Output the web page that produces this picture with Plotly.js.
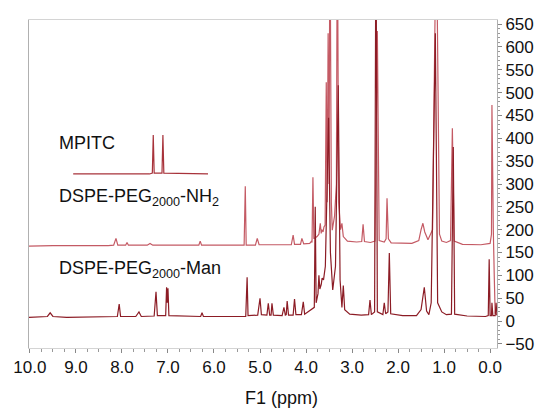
<!DOCTYPE html>
<html>
<head>
<meta charset="utf-8">
<script src="https://cdn.plot.ly/plotly-3.0.1.min.js"></script>
<style>html,body{margin:0;padding:0;background:#fff;}#chart{width:539px;height:408px;}</style>
</head>
<body>
<div id="chart"></div>
<script>
// Chemical shift (ppm) and intensity
const nh2Shift = [10.02,9.50,8.30,8.18,8.13,8.09,7.92,7.89,7.86,7.45,7.39,7.33,6.33,6.30,6.27,5.345,5.32,5.30,5.10,5.06,5.02,4.32,4.28,4.25,4.12,4.09,4.05,3.92,3.88,3.87,3.85,3.83,3.76,3.72,3.69,3.67,3.66,3.63,3.61,3.585,3.56,3.54,3.52,3.50,3.48,3.45,3.43,3.38,3.34,3.32,3.29,3.25,3.22,3.19,3.10,2.90,2.79,2.76,2.73,2.60,2.50,2.45,2.41,2.30,2.26,2.24,2.21,2.15,1.70,1.55,1.50,1.46,1.42,1.35,1.25,1.17,1.10,1.05,0.95,0.86,0.82,0.78,0.60,0.20,0.00,-0.03,-0.04,-0.055,-0.07,-0.09,-0.11,-0.15];
const nh2Value = [164,165,165,166,181,166,166,172,166,166,170,166,166,175,166,166,295,166,166,181,167,167,188,168,168,181,169,170,175,172,315,180,185,190,214,192,200,195,206,210,523,260,630,300,900,260,199,230,300,900,260,200,214,185,175,173,174,212,174,172,175,635,176,173,180,269,180,171,170,176,200,214,195,178,200,900,190,175,172,176,422,175,168,167,170,190,473,230,199,100,17,14];

const manShift = [10.02,9.80,9.62,9.56,9.50,9.20,8.60,8.10,8.06,8.03,7.70,7.63,7.58,7.30,7.26,7.23,7.05,7.03,7.015,7.00,6.98,6.60,6.29,6.26,6.23,5.60,5.31,5.28,5.26,5.05,5.02,5.00,4.97,4.85,4.82,4.79,4.76,4.74,4.71,4.52,4.48,4.45,4.43,4.41,4.38,4.28,4.25,4.22,4.10,4.06,4.03,3.95,3.88,3.82,3.80,3.78,3.74,3.72,3.70,3.67,3.65,3.62,3.58,3.51,3.47,3.42,3.36,3.30,3.26,3.22,3.19,3.16,3.05,2.80,2.64,2.61,2.58,2.51,2.48,2.45,2.33,2.30,2.27,2.22,2.19,2.16,1.90,1.60,1.50,1.43,1.38,1.33,1.28,1.19,1.14,1.05,0.95,0.84,0.80,0.77,0.50,0.10,0.04,0.02,0.00,-0.03,-0.04,-0.06,-0.11,-0.13,-0.15];
const manValue = [8,9,10,18,10,8,9,10,37,10,10,20,10,11,64,12,12,74,40,72,12,10,10,18,10,10,10,96,12,13,45,50,14,13,39,13,13,39,13,12,30,13,14,44,13,13,48,14,14,42,15,20,25,30,250,40,60,100,70,80,94,90,120,445,150,68,120,516,90,30,78,25,15,13,14,46,14,20,900,20,14,40,16,20,149,16,12,12,25,74,22,14,40,630,40,20,14,15,381,15,11,10,12,135,12,12,40,12,12,40,12];

const mpitcShift = [9.06,7.40,7.34,7.32,7.30,7.13,7.11,7.09,6.13];
const mpitcValue = [322,322,324,407,324,324,407,324,322];

const seriesNames = ["DSPE-PEG<sub>2000</sub>-NH<sub>2</sub>", "DSPE-PEG<sub>2000</sub>-Man", "MPITC"];
const yTicks = [-50,0,50,100,150,200,250,300,350,400,450,500,550,600,650];
const xTicks = [10,9,8,7,6,5,4,3,2,1,0];
const xTickText = ["10.0","9.0","8.0","7.0","6.0","5.0","4.0","3.0","2.0","1.0","0.0"];

const FONT = "Liberation Sans, Arial, Helvetica, sans-serif";

const traces = [
  {x: nh2Shift, y: nh2Value, name: seriesNames[0], type: "scatter", mode: "lines",
   line: {color: "#c45a64", width: 1.2}},
  {x: manShift, y: manValue, name: seriesNames[1], type: "scatter", mode: "lines",
   line: {color: "#8c1c25", width: 1.2}},
  {x: mpitcShift, y: mpitcValue, name: seriesNames[2], type: "scatter", mode: "lines",
   line: {color: "#a8333b", width: 1.2}}
];

const layout = {
  width: 539, height: 408,
  margin: {l: 29, r: 42, t: 20, b: 60},
  paper_bgcolor: "#fff", plot_bgcolor: "#fff",
  showlegend: false,
  font: {family: FONT, size: 17, color: "#111"},
  xaxis: {
    range: [10.02, -0.15],
    tickvals: xTicks, ticktext: xTickText,
    ticks: "outside", ticklen: 4, tickcolor: "#888", tickwidth: 1,
    minor: {dtick: 0.25, ticks: "outside", ticklen: 3, tickcolor: "#999"},
    showline: true, linecolor: "#d4d4d4", linewidth: 1, mirror: true,
    showgrid: false, zeroline: false,
    tickfont: {family: FONT, size: 17, color: "#111"}
  },
  yaxis: {
    side: "right",
    range: [-59, 659],
    tickvals: yTicks,
    ticks: "outside", ticklen: 4, tickcolor: "#888", tickwidth: 1,
    minor: {dtick: 10, ticks: "outside", ticklen: 2, tickcolor: "#999"},
    showline: true, linecolor: "#b0b0b0", linewidth: 1, mirror: true,
    showgrid: false, zeroline: false,
    tickfont: {family: FONT, size: 17, color: "#111"}
  },
  annotations: [
    {xref: "paper", yref: "y", x: 0.06, y: 389, xanchor: "left", yanchor: "middle",
     text: seriesNames[2], showarrow: false, font: {family: FONT, size: 18, color: "#111"}},
    {xref: "paper", yref: "y", x: 0.06, y: 271, xanchor: "left", yanchor: "middle",
     text: seriesNames[0], showarrow: false, font: {family: FONT, size: 18, color: "#111"}},
    {xref: "paper", yref: "y", x: 0.06, y: 112, xanchor: "left", yanchor: "middle",
     text: seriesNames[1], showarrow: false, font: {family: FONT, size: 18, color: "#111"}},
    {xref: "paper", yref: "paper", x: 0.54, y: -0.152, xanchor: "center", yanchor: "middle",
     text: "F1 (ppm)", showarrow: false, font: {family: FONT, size: 18, color: "#111"}}
  ]
};

Plotly.newPlot("chart", traces, layout, {staticPlot: true, displayModeBar: false});
</script>
</body>
</html>
